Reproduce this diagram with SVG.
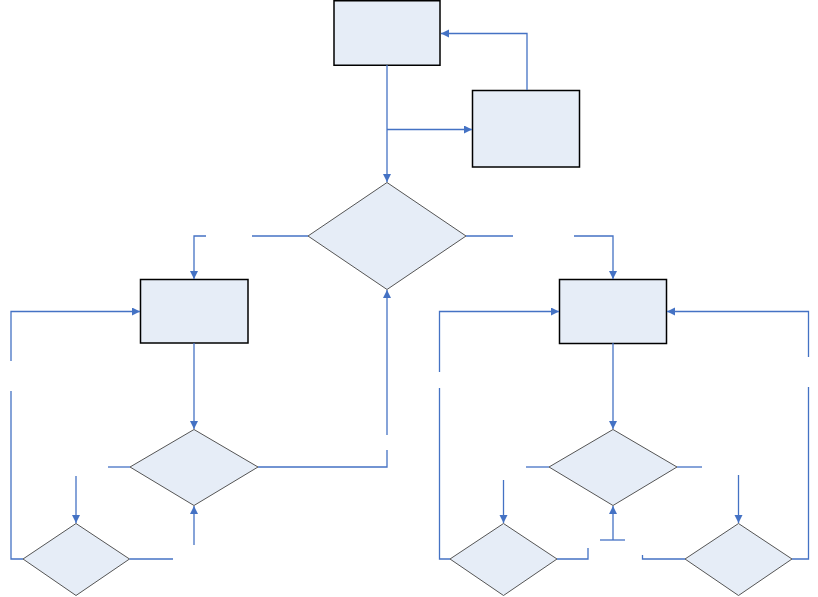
<svg xmlns="http://www.w3.org/2000/svg" width="818" height="597" viewBox="0 0 818 597">
<style>
.box{fill:#E6EDF7;stroke:#000;stroke-width:1.5}
.dia{fill:#E6EDF7;stroke:#555;stroke-width:1}
.c{fill:none;stroke:#4472C4;stroke-width:1.3}
.a{marker-end:url(#ah)}
</style>
<defs>
<marker id="ah" markerUnits="userSpaceOnUse" markerWidth="9" markerHeight="9" refX="8" refY="4" orient="auto">
<path d="M0,0 L8,4 L0,8 z" fill="#4472C4"/>
</marker>
</defs>
<rect width="818" height="597" fill="#fff"/>
<g id="n-top"><rect class="box" x="334" y="0.75" width="106" height="64.5"/></g>
<g id="n-side"><rect class="box" x="472.5" y="90.5" width="107" height="76.5"/></g>
<g id="n-dec-main"><polygon class="dia" points="387,182.5 466,236 387,289.5 308,236"/></g>
<g id="n-left-box"><rect class="box" x="140.5" y="279.5" width="107.5" height="63.5"/></g>
<g id="n-right-box"><rect class="box" x="559.5" y="279.5" width="107" height="64"/></g>
<g id="n-left-dec"><polygon class="dia" points="194,429.5 258,467 194,505.5 130,467"/></g>
<g id="n-right-dec"><polygon class="dia" points="613,429.5 677,467 613,505.5 549,467"/></g>
<g id="n-ll-dec"><polygon class="dia" points="76,523.5 129.5,559 76,595.5 23,559"/></g>
<g id="n-rl-dec"><polygon class="dia" points="503.5,523.5 557,559 503.5,595.5 450,559"/></g>
<g id="n-rr-dec"><polygon class="dia" points="738.5,523.5 792,559 738.5,595.5 685,559"/></g>
<g id="connectors">
<path class="c a" d="M527,90 V33.5 H441"/>
<path class="c a" d="M387,65 V182"/>
<path class="c a" d="M387,129.5 H472"/>
<path class="c" d="M308,236 H252"/>
<path class="c a" d="M206,236 H194 V279"/>
<path class="c" d="M466,236 H513"/>
<path class="c a" d="M574,236 H613 V279"/>
<path class="c a" d="M194,343 V429"/>
<path class="c" d="M130,467 H108"/>
<path class="c" d="M258,467 H387 V450"/>
<path class="c a" d="M387,435 V290"/>
<path class="c" d="M129.5,559 H173"/>
<path class="c" d="M23,559 H11 V391"/>
<path class="c a" d="M11,361 V311.5 H140"/>
<path class="c a" d="M76,476 V523"/>
<path class="c a" d="M194,545 V506"/>
<path class="c a" d="M613,343 V429"/>
<path class="c" d="M549,467 H526"/>
<path class="c" d="M677,467 H702"/>
<path class="c" d="M600,540 H625"/>
<path class="c a" d="M613,540 V506"/>
<path class="c a" d="M503.5,480 V523"/>
<path class="c" d="M450,559 H439.5 V388"/>
<path class="c a" d="M439.5,372 V311.5 H559"/>
<path class="c" d="M557,559 H588 V548"/>
<path class="c a" d="M738.5,475 V523"/>
<path class="c" d="M685,559 H642.5 V555"/>
<path class="c" d="M792,559 H808.5 V387"/>
<path class="c a" d="M808.5,357 V311.5 H667"/>
</g>
</svg>
